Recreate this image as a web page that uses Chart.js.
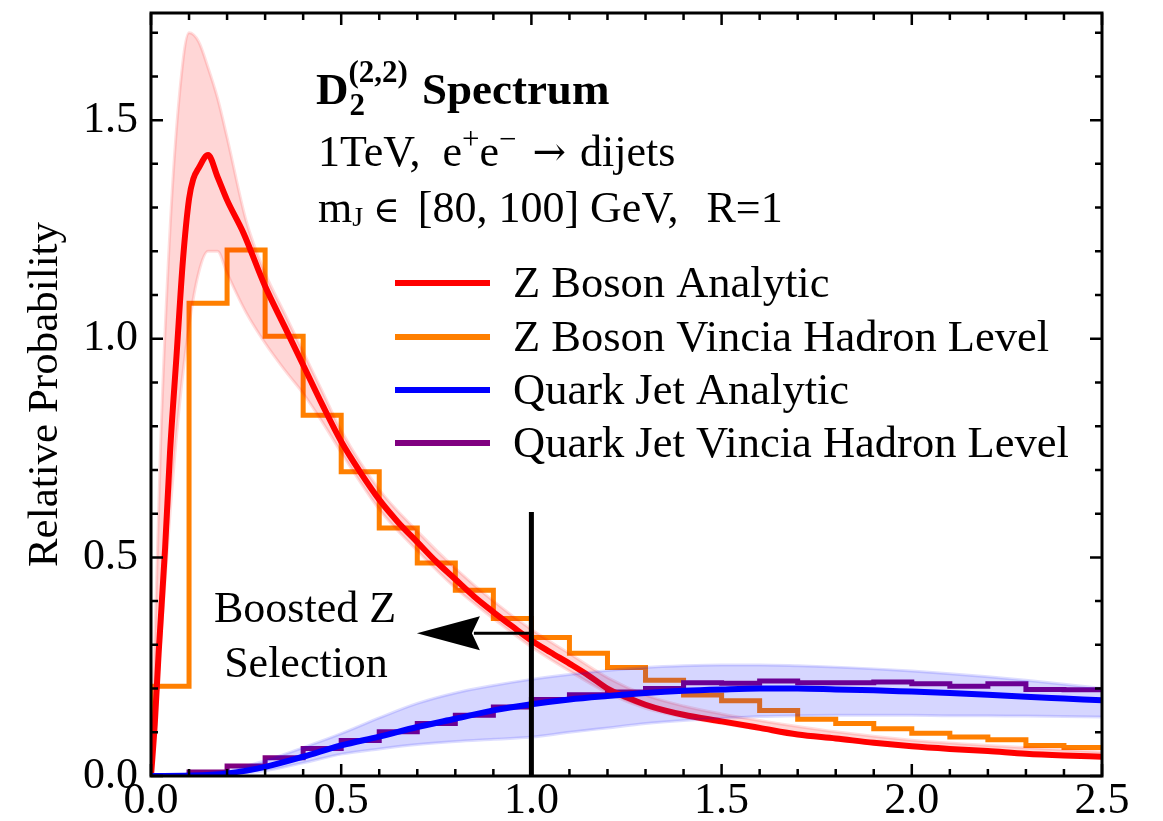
<!DOCTYPE html>
<html>
<head>
<meta charset="utf-8">
<script src="https://cdn.jsdelivr.net/npm/chart.js@4.4.1/dist/chart.umd.min.js"></script>
<style>
  html, body { margin: 0; padding: 0; background: #fff; }
  #wrap { width: 1163px; height: 821px; }
</style>
</head>
<body>
<div id="wrap"><canvas id="d2Chart" width="1163" height="821"></canvas></div>
<script>
// D2 spectrum: analytic curves with uncertainty bands, Vincia histograms
const xTickValues = [0, 0.5, 1.0, 1.5, 2.0, 2.5];
const yTickValues = [0, 0.5, 1.0, 1.5];

const seriesNames = ['Z Boson Analytic', 'Z Boson Vincia Hadron Level', 'Quark Jet Analytic', 'Quark Jet Vincia Hadron Level'];
const seriesColors = ['#ff0000', '#ff7f00', '#0000ff', '#800080'];

// Z boson analytic
const zX = [0, 0.01, 0.02, 0.037, 0.05, 0.067, 0.084, 0.1, 0.111, 0.125, 0.15, 0.175, 0.2, 0.243, 0.3, 0.35, 0.4, 0.45, 0.5, 0.55,
  0.6, 0.65, 0.7, 0.75, 0.8, 0.85, 0.9, 0.95, 1.0, 1.05, 1.1, 1.15, 1.2, 1.25, 1.3, 1.35, 1.4, 1.5, 1.6, 1.7,
  1.8, 1.9, 2.0, 2.1, 2.2, 2.3, 2.4, 2.5];
const zY = [0, 0.12, 0.28, 0.52, 0.74, 0.96, 1.18, 1.32, 1.365, 1.39, 1.42, 1.37, 1.317, 1.242, 1.12, 1.03, 0.94, 0.85, 0.765, 0.695,
  0.632, 0.58, 0.535, 0.49, 0.45, 0.41, 0.375, 0.342, 0.31, 0.283, 0.257, 0.23, 0.2, 0.18, 0.163, 0.15, 0.14, 0.125, 0.11, 0.095,
  0.086, 0.076, 0.068, 0.062, 0.057, 0.051, 0.047, 0.044];

// Z boson uncertainty band
const zBandX = [0, 0.025, 0.05, 0.075, 0.1, 0.125, 0.15, 0.175, 0.2, 0.25, 0.3, 0.35, 0.4, 0.45, 0.5, 0.6, 0.7, 0.8, 0.9, 1.0,
  1.1, 1.2, 1.3, 1.4, 1.5, 1.6, 1.8, 2.0, 2.2, 2.5];
const zBandHi = [0, 0.75, 1.25, 1.56, 1.70, 1.68, 1.62, 1.55, 1.46, 1.27, 1.15, 1.06, 0.97, 0.88, 0.79, 0.655, 0.56, 0.475, 0.4, 0.335,
  0.28, 0.225, 0.185, 0.16, 0.142, 0.127, 0.101, 0.082, 0.07, 0.055];
const zBandLo = [0, 0.3, 0.6, 0.85, 1.03, 1.15, 1.2, 1.2, 1.15, 1.06, 0.99, 0.93, 0.875, 0.81, 0.74, 0.61, 0.515, 0.43, 0.36, 0.295,
  0.24, 0.19, 0.155, 0.135, 0.12, 0.107, 0.083, 0.066, 0.056, 0.042];

// quark jet analytic
const qX = [0, 0.1, 0.2, 0.3, 0.4, 0.5, 0.6, 0.7, 0.8, 0.9, 1.0, 1.1, 1.2, 1.3, 1.4, 1.5, 1.6, 1.7, 1.8, 1.9,
  2.0, 2.1, 2.2, 2.3, 2.4, 2.5];
const qY = [0, 0.001, 0.006, 0.021, 0.044, 0.07, 0.09, 0.112, 0.131, 0.15, 0.164, 0.175, 0.183, 0.19, 0.195, 0.198, 0.2, 0.2, 0.198, 0.196,
  0.193, 0.19, 0.186, 0.181, 0.177, 0.173];
const qBandHi = [0, 0.002, 0.012, 0.035, 0.065, 0.097, 0.133, 0.166, 0.19, 0.207, 0.221, 0.232, 0.241, 0.248, 0.252, 0.254, 0.254, 0.252, 0.249, 0.245,
  0.24, 0.234, 0.227, 0.219, 0.21, 0.2];
const qBandLo = [0, 0, 0.003, 0.012, 0.03, 0.05, 0.062, 0.072, 0.079, 0.084, 0.089, 0.1, 0.11, 0.12, 0.127, 0.132, 0.136, 0.138, 0.139, 0.139,
  0.139, 0.138, 0.138, 0.137, 0.136, 0.135];

// Vincia histograms, bins of width 0.1
const binEdges = [0, 0.1, 0.2, 0.3, 0.4, 0.5, 0.6, 0.7, 0.8, 0.9, 1.0, 1.1, 1.2, 1.3, 1.4, 1.5, 1.6, 1.7, 1.8, 1.9,
  2.0, 2.1, 2.2, 2.3, 2.4, 2.5];
const zVincia = [0.205, 1.081, 1.203, 1.006, 0.825, 0.696, 0.567, 0.487, 0.425, 0.36, 0.317, 0.281, 0.248, 0.219, 0.185, 0.172, 0.15, 0.13, 0.12, 0.108,
  0.098, 0.089, 0.083, 0.07, 0.065];
const qVincia = [0.001, 0.009, 0.023, 0.042, 0.063, 0.081, 0.101, 0.12, 0.139, 0.158, 0.175, 0.186, 0.192, 0.2, 0.213, 0.212, 0.217, 0.213, 0.213, 0.215,
  0.211, 0.205, 0.211, 0.198, 0.197];

// boosted Z selection cut
const cutX = 1.0;
const cutTop = 0.604;
const arrowY = 0.3265;
const arrowTipX = 0.699;

const serif = "'Liberation Serif', 'Times New Roman', serif";

const pts = (xs, ys) => xs.map((x, i) => ({x: x, y: ys[i]}));
// histogram outline: a point at each bin's left edge, plus the closing edge
const steps = vals => [{x: binEdges[0], y: 0}].concat(
    vals.map((v, i) => ({x: binEdges[i], y: v})),
    [{x: binEdges[binEdges.length - 1], y: vals[vals.length - 1]}]);

function drawRuns(ctx, x, base, runs) {
    runs.forEach(r => {
        ctx.font = (r.bold ? 'bold ' : '') + r.size + 'px ' + (r.family || serif);
        ctx.fillText(r.t, x, base + (r.dy || 0));
        x += ctx.measureText(r.t).width + (r.gap || 0);
    });
    return x;
}

const framePlugin = {
    id: 'frame',
    afterDatasetsDraw(chart) {
        const {ctx, chartArea: a, scales: {x, y}} = chart;
        ctx.save();
        ctx.strokeStyle = '#000';
        ctx.lineWidth = 2.5;
        ctx.beginPath();
        for (let i = 0; i <= 25; i++) {
            const px = x.getPixelForValue(i / 10);
            const len = i % 5 === 0 ? 12 : 7;
            ctx.moveTo(px, a.bottom); ctx.lineTo(px, a.bottom - len);
            ctx.moveTo(px, a.top); ctx.lineTo(px, a.top + len);
        }
        for (let i = 0; i <= 17; i++) {
            const py = y.getPixelForValue(i / 10);
            const len = i % 5 === 0 ? 12 : 7;
            ctx.moveTo(a.left, py); ctx.lineTo(a.left + len, py);
            ctx.moveTo(a.right, py); ctx.lineTo(a.right - len, py);
        }
        ctx.stroke();
        ctx.lineWidth = 3;
        ctx.strokeRect(a.left, a.top, a.width, a.height);
        ctx.restore();
    }
};

const notesPlugin = {
    id: 'notes',
    afterDatasetsDraw(chart) {
        const {ctx, scales: {x, y}} = chart;
        ctx.save();

        // cut line and arrow
        const cx = x.getPixelForValue(cutX);
        ctx.strokeStyle = '#000';
        ctx.fillStyle = '#000';
        ctx.lineWidth = 5;
        ctx.beginPath();
        ctx.moveTo(cx, y.getPixelForValue(0));
        ctx.lineTo(cx, y.getPixelForValue(cutTop));
        ctx.stroke();
        const ay = y.getPixelForValue(arrowY);
        const tip = x.getPixelForValue(arrowTipX);
        const back = tip + 63;
        ctx.lineWidth = 3;
        ctx.beginPath();
        ctx.moveTo(cx, ay);
        ctx.lineTo(back - 6, ay);
        ctx.stroke();
        ctx.beginPath();
        ctx.moveTo(tip, ay);
        ctx.lineTo(back, ay - 17);
        ctx.lineTo(back - 8, ay);
        ctx.lineTo(back, ay + 17);
        ctx.closePath();
        ctx.fill();

        ctx.textAlign = 'center';
        ctx.textBaseline = 'alphabetic';
        ctx.font = '44px ' + serif;
        ctx.fillText('Boosted Z', 305, 622);
        ctx.fillText('Selection', 306, 677);

        // heading block
        ctx.textAlign = 'left';
        const px = drawRuns(ctx, 316, 104, [{t: 'D', size: 45, bold: true}]);
        ctx.font = 'bold 31px ' + serif;
        const supW = ctx.measureText('(2,2)').width;
        ctx.fillText('2', px + 1, 115);
        ctx.fillText('(2,2)', px, 82);
        drawRuns(ctx, px + supW + 14, 104, [{t: 'Spectrum', size: 45, bold: true}]);

        drawRuns(ctx, 318, 166, [
            {t: '1TeV,  e', size: 44},
            {t: '+', size: 31, dy: -17},
            {t: 'e', size: 44},
            {t: '\u2212', size: 31, dy: -17, gap: 16},
            {t: '\u2192', size: 40, family: "'DejaVu Serif', serif", dy: -1, gap: 14},
            {t: 'dijets', size: 44}
        ]);
        const gx = drawRuns(ctx, 318, 222, [
            {t: 'm', size: 44},
            {t: 'J', size: 28, dy: 4, gap: 10},
            {t: '\u2208', size: 36, family: "'DejaVu Serif', serif", gap: 18},
            {t: '[80, 100] GeV,', size: 44}
        ]);
        drawRuns(ctx, gx + 28, 222, [{t: 'R=1', size: 44}]);

        // legend
        const rows = [283, 337, 390, 443];
        ctx.font = '44.5px ' + serif;
        ctx.lineWidth = 6;
        seriesNames.forEach((name, i) => {
            ctx.strokeStyle = seriesColors[i];
            ctx.beginPath();
            ctx.moveTo(395, rows[i]);
            ctx.lineTo(490, rows[i]);
            ctx.stroke();
            ctx.fillStyle = '#000';
            ctx.fillText(name, 513, rows[i] + 14);
        });
        ctx.restore();
    }
};

const ctx = document.getElementById('d2Chart').getContext('2d');
new Chart(ctx, {
    type: 'line',
    data: {
        datasets: [
            {   // 0
                label: seriesNames[2],
                data: pts(qX, qY),
                borderColor: seriesColors[2],
                borderWidth: 6,
                cubicInterpolationMode: 'monotone',
                order: 0
            },
            {   // 1
                label: 'quark band low',
                data: pts(qX, qBandLo),
                borderColor: 'rgba(0,0,255,0.13)',
                borderWidth: 3,
                cubicInterpolationMode: 'monotone',
                fill: false,
                order: 2
            },
            {   // 2
                label: 'quark band high',
                data: pts(qX, qBandHi),
                borderColor: 'rgba(0,0,255,0.13)',
                borderWidth: 3,
                cubicInterpolationMode: 'monotone',
                fill: {target: 1},
                backgroundColor: 'rgba(0,0,255,0.16)',
                order: 1
            },
            {   // 3
                label: seriesNames[0],
                data: pts(zX, zY),
                borderColor: seriesColors[0],
                borderWidth: 6,
                cubicInterpolationMode: 'monotone',
                order: 3
            },
            {   // 4
                label: 'Z band low',
                data: pts(zBandX, zBandLo),
                borderColor: 'rgba(255,0,0,0.13)',
                borderWidth: 3,
                cubicInterpolationMode: 'monotone',
                fill: false,
                order: 5
            },
            {   // 5
                label: 'Z band high',
                data: pts(zBandX, zBandHi),
                borderColor: 'rgba(255,0,0,0.13)',
                borderWidth: 3,
                cubicInterpolationMode: 'monotone',
                fill: {target: 4},
                backgroundColor: 'rgba(255,0,0,0.16)',
                order: 4
            },
            {   // 6
                label: seriesNames[3],
                data: steps(qVincia),
                borderColor: seriesColors[3],
                borderWidth: 5,
                stepped: 'before',
                order: 6
            },
            {   // 7
                label: seriesNames[1],
                data: steps(zVincia),
                borderColor: seriesColors[1],
                borderWidth: 5,
                stepped: 'before',
                order: 7
            }
        ]
    },
    options: {
        responsive: false,
        animation: false,
        devicePixelRatio: 1,
        layout: {padding: {left: 0, top: 13, right: 61, bottom: 0}},
        elements: {point: {radius: 0}, line: {borderJoinStyle: 'miter'}},
        plugins: {legend: {display: false}, tooltip: {enabled: false}},
        scales: {
            x: {
                type: 'linear',
                min: 0,
                max: 2.5,
                grid: {display: false},
                border: {display: false},
                afterBuildTicks: s => { s.ticks = xTickValues.map(v => ({value: v})); },
                afterFit: s => { s.height = 45; s.paddingLeft = 0; s.paddingRight = 0; },
                ticks: {
                    color: '#000',
                    font: {family: serif, size: 44},
                    padding: -9,
                    maxRotation: 0,
                    callback: v => v.toFixed(1)
                }
            },
            y: {
                type: 'linear',
                min: 0,
                max: 1.745,
                grid: {display: false},
                border: {display: false},
                afterBuildTicks: s => { s.ticks = yTickValues.map(v => ({value: v})); },
                afterFit: s => { s.width = 151; s.paddingTop = 0; s.paddingBottom = 0; },
                title: {
                    display: true,
                    text: 'Relative Probability',
                    color: '#000',
                    font: {family: serif, size: 43},
                    padding: {top: 20, bottom: 0}
                },
                ticks: {
                    color: '#000',
                    font: {family: serif, size: 44},
                    padding: 5,
                    callback: v => v.toFixed(1)
                }
            }
        }
    },
    plugins: [framePlugin, notesPlugin]
});
</script>
</body>
</html>
